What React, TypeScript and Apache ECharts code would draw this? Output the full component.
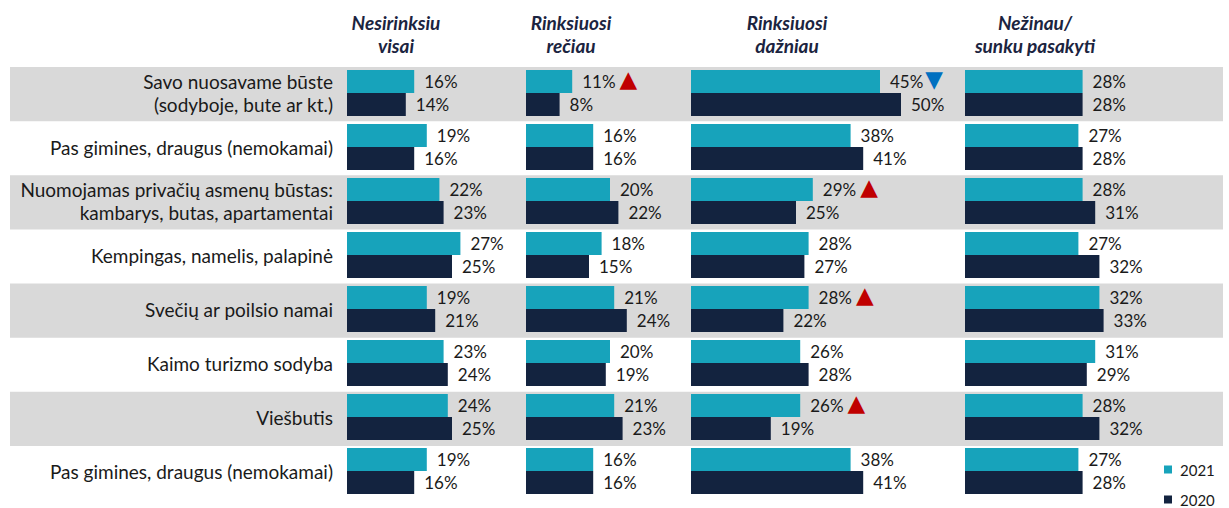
import React, { useEffect, useRef } from "react";
import * as echarts from "echarts";

const categories = [
  "Savo nuosavame būste\n(sodyboje, bute ar kt.)",
  "Pas gimines, draugus (nemokamai)",
  "Nuomojamas privačių asmenų būstas:\nkambarys, butas, apartamentai",
  "Kempingas, namelis, palapinė",
  "Svečių ar poilsio namai",
  "Kaimo turizmo sodyba",
  "Viešbutis",
  "Pas gimines, draugus (nemokamai)",
];

const panelTitles = [
  "Nesirinksiu\nvisai",
  "Rinksiuosi\nrečiau",
  "Rinksiuosi\ndažniau",
  "Nežinau/\nsunku pasakyti",
];

const seriesNames = ["2021", "2020"];

// Nesirinksiu visai
const visai2021 = [16, 19, 22, 27, 19, 23, 24, 19];
const visai2020 = [14, 16, 23, 25, 21, 24, 25, 16];
// Rinksiuosi rečiau
const reciau2021 = [11, 16, 20, 18, 21, 20, 21, 16];
const reciau2020 = [8, 16, 22, 15, 24, 19, 23, 16];
// Rinksiuosi dažniau
const dazniau2021 = [45, 38, 29, 28, 28, 26, 26, 38];
const dazniau2020 = [50, 41, 25, 27, 22, 28, 19, 41];
// Nežinau / sunku pasakyti
const nezinau2021 = [28, 27, 28, 27, 32, 31, 28, 27];
const nezinau2020 = [28, 28, 31, 32, 33, 29, 32, 28];

// significance markers for 2021 values
const visaiMarks = ["", "", "", "", "", "", "", ""];
const reciauMarks = ["up", "", "", "", "", "", "", ""];
const dazniauMarks = ["down", "", "up", "", "up", "", "up", ""];
const nezinauMarks = ["", "", "", "", "", "", "", ""];

const panels2021 = [visai2021, reciau2021, dazniau2021, nezinau2021];
const panels2020 = [visai2020, reciau2020, dazniau2020, nezinau2020];
const panelMarks = [visaiMarks, reciauMarks, dazniauMarks, nezinauMarks];

// layout (styles / positions only)
const panelLeft = [347, 526, 691, 965];
const panelMax = [40, 40, 55, 40];
const pxPerUnit = 4.2;
const titleCenters = [396, 571, 787, 1035];
const TEAL = "#17a3bb";
const NAVY = "#13233f";
const FONT = "Lato, 'Liberation Sans', sans-serif";

export default function App() {
  const ref = useRef<HTMLDivElement>(null);

  useEffect(() => {
    document.body.style.margin = "0";
    if (!ref.current) return;
    const chart = echarts.init(ref.current, undefined, { renderer: "svg" });

    const grids: any[] = [{ left: 10, right: 6, top: 67, height: 433 }];
    const xAxes: any[] = [{ gridIndex: 0, type: "value", min: 0, max: 1, show: false }];
    const yAxes: any[] = [
      {
        gridIndex: 0,
        type: "category",
        data: categories,
        inverse: true,
        axisLine: { show: false },
        axisTick: { show: false },
        axisLabel: { show: false },
        splitLine: { show: false },
        splitArea: {
          show: true,
          interval: 0,
          areaStyle: { color: ["#d9d9d9", "rgba(255,255,255,0)"] },
        },
      },
    ];
    const series: any[] = [];

    const rich = {
      v: { fontSize: 17, fontFamily: FONT, color: "#1a1a1a" },
      up: {
        fontSize: 23,
        fontFamily: "'DejaVu Sans'",
        color: "#c00000",
        padding: [0, 0, 6, 4],
      },
      down: {
        fontSize: 23,
        fontFamily: "'DejaVu Sans'",
        color: "#0070c0",
        padding: [0, 0, 6, 2],
      },
    };

    for (let p = 0; p < 4; p++) {
      const gi = p + 1;
      grids.push({
        left: panelLeft[p],
        top: 66,
        height: 432,
        width: panelMax[p] * pxPerUnit,
      });
      xAxes.push({ gridIndex: gi, type: "value", min: 0, max: panelMax[p], show: false });
      yAxes.push({
        gridIndex: gi,
        type: "category",
        data: categories,
        inverse: true,
        show: p === 0,
        axisLine: { show: false },
        axisTick: { show: false },
        splitLine: { show: false },
        axisLabel: {
          show: p === 0,
          interval: 0,
          margin: 14,
          fontSize: 19,
          fontFamily: FONT,
          color: "#1a1a1a",
          lineHeight: 23,
        },
      });
      const marks = panelMarks[p];
      series.push({
        name: seriesNames[0],
        type: "bar",
        xAxisIndex: gi,
        yAxisIndex: gi,
        data: panels2021[p],
        barWidth: 23,
        barGap: "0%",
        itemStyle: { color: TEAL },
        label: {
          show: true,
          position: "right",
          distance: 10,
          fontSize: 17,
          fontFamily: FONT,
          color: "#1a1a1a",
          rich,
          formatter: (params: any) => {
            const m = marks[params.dataIndex];
            const v = `{v|${params.value}%}`;
            if (m === "up") return `${v}{up|▲}`;
            if (m === "down") return `${v}{down|▼}`;
            return v;
          },
        },
      });
      series.push({
        name: seriesNames[1],
        type: "bar",
        xAxisIndex: gi,
        yAxisIndex: gi,
        data: panels2020[p],
        barWidth: 23,
        barGap: "0%",
        itemStyle: { color: NAVY },
        label: {
          show: true,
          position: "right",
          distance: 10,
          fontSize: 17,
          fontFamily: FONT,
          color: "#1a1a1a",
          formatter: (params: any) => `${params.value}%`,
        },
      });
    }

    const titles = panelTitles.map((t, i) => ({
      text: t,
      left: titleCenters[i],
      top: 11,
      textAlign: "center",
      padding: 0,
      textStyle: {
        fontSize: 19,
        fontWeight: "bold",
        fontStyle: "italic",
        fontFamily: FONT,
        color: "#1b2440",
        lineHeight: 23,
      },
    }));

    const legendBase = {
      orient: "vertical",
      left: 1164,
      itemWidth: 8,
      itemHeight: 8,
      padding: 0,
      icon: "rect",
      textStyle: { fontSize: 15, fontFamily: FONT, color: "#1a1a1a", padding: [0, 0, 0, 3] },
    };

    chart.setOption({
      animation: false,
      backgroundColor: "#ffffff",
      title: titles,
      grid: grids,
      xAxis: xAxes,
      yAxis: yAxes,
      legend: [
        { ...legendBase, data: [seriesNames[0]], top: 462 },
        { ...legendBase, data: [seriesNames[1]], top: 492 },
      ],
      series,
    });

    return () => chart.dispose();
  }, []);

  return <div ref={ref} style={{ width: 1229, height: 508 }} />;
}
